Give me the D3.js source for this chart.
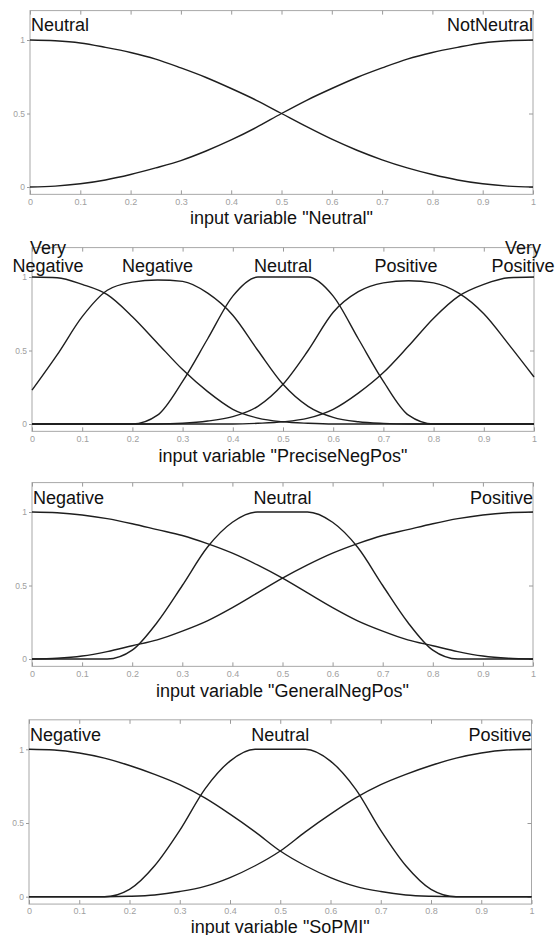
<!DOCTYPE html>
<html><head><meta charset="utf-8">
<script src="https://cdn.jsdelivr.net/npm/d3@7"></script>
<style>body{margin:0;background:#fff}svg{display:block}</style>
</head><body><svg id="c" width="555" height="935"></svg>
<script>
// ---------- data ----------
const xs = [0,0.05,0.1,0.15,0.2,0.25,0.3,0.35,0.4,0.45,0.5,0.55,0.6,0.65,0.7,0.75,0.8,0.85,0.9,0.95,1];
const xTickValues = [0,0.1,0.2,0.3,0.4,0.5,0.6,0.7,0.8,0.9,1];
const xTickLabels = ["0","0.1","0.2","0.3","0.4","0.5","0.6","0.7","0.8","0.9","1"];
const yTickValues = [0,0.5,1];
const yTickLabels = ["0","0.5","1"];

// Panel 1: input variable "Neutral"
const neutralTitle = 'input variable "Neutral"';
const neutralNames = [["Neutral"],["NotNeutral"]];
const neutralPeaks = [0,1];
const neutralNeutral    = [1,0.995,0.98,0.95,0.915,0.87,0.81,0.745,0.67,0.59,0.5,0.41,0.325,0.25,0.185,0.13,0.085,0.048,0.022,0.006,0];
const neutralNotNeutral = [0,0.006,0.022,0.048,0.085,0.13,0.18,0.245,0.32,0.405,0.5,0.59,0.67,0.745,0.81,0.87,0.915,0.95,0.98,0.995,1];

// Panel 2: input variable "PreciseNegPos"
const preciseTitle = 'input variable "PreciseNegPos"';
const preciseNames = [["Very","Negative"],["Negative"],["Neutral"],["Positive"],["Very","Positive"]];
const precisePeaks = [0.032,0.25,0.5,0.745,0.978];
const preciseVeryNeg = [1,0.995,0.95,0.88,0.73,0.55,0.37,0.22,0.10,0.04,0.015,0.005,0,0,0,0,0,0,0,0,0];
const preciseNeg     = [0.23,0.47,0.73,0.91,0.965,0.98,0.97,0.89,0.74,0.50,0.27,0.12,0.045,0.015,0.004,0,0,0,0,0,0];
const preciseNeu     = [0,0,0,0,0,0.06,0.29,0.58,0.87,1,1,1,0.87,0.58,0.29,0.06,0,0,0,0,0];
const precisePos     = [0,0,0,0,0,0,0.005,0.02,0.05,0.12,0.27,0.50,0.76,0.90,0.96,0.975,0.96,0.89,0.75,0.54,0.32];
const preciseVeryPos = [0,0,0,0,0,0,0,0,0,0.005,0.015,0.04,0.10,0.21,0.35,0.53,0.72,0.87,0.95,0.995,1];

// Panel 3: input variable "GeneralNegPos"
const generalTitle = 'input variable "GeneralNegPos"';
const generalNames = [["Negative"],["Neutral"],["Positive"]];
const generalPeaks = [0,0.5,1];
const generalNeg = [1,0.995,0.98,0.955,0.92,0.88,0.84,0.785,0.72,0.64,0.55,0.45,0.35,0.26,0.19,0.13,0.09,0.05,0.02,0.005,0];
const generalNeu = [0,0,0,0,0.06,0.25,0.50,0.76,0.93,1,1,1,0.93,0.76,0.50,0.25,0.06,0,0,0,0];
const generalPos = [0,0.005,0.02,0.05,0.09,0.13,0.19,0.26,0.35,0.45,0.55,0.64,0.72,0.785,0.84,0.88,0.92,0.955,0.98,0.995,1];

// Panel 4: input variable "SoPMI"
const sopmiTitle = 'input variable "SoPMI"';
const sopmiNames = [["Negative"],["Neutral"],["Positive"]];
const sopmiPeaks = [0,0.5,1];
const sopmiNeg = [1,0.995,0.975,0.94,0.89,0.83,0.76,0.67,0.56,0.44,0.31,0.21,0.13,0.07,0.035,0.012,0.003,0,0,0,0];
const sopmiNeu = [0,0,0,0,0.05,0.21,0.45,0.73,0.92,1,1,1,0.92,0.73,0.45,0.21,0.05,0,0,0,0];
const sopmiPos = [0,0,0,0,0.003,0.012,0.035,0.07,0.13,0.21,0.31,0.44,0.56,0.67,0.76,0.83,0.89,0.94,0.975,0.995,1];

// ---------- layout ----------
const panels = [
  {title: neutralTitle, names: neutralNames, peaks: neutralPeaks, series: [neutralNeutral, neutralNotNeutral],
   L: {left:30, right:533, y1:40, y0:187, labelY:30.7, titleY:223.5}},
  {title: preciseTitle, names: preciseNames, peaks: precisePeaks, series: [preciseVeryNeg, preciseNeg, preciseNeu, precisePos, preciseVeryPos],
   L: {left:32, right:534, y1:277, y0:424, labelY:271.5, titleY:461.5}},
  {title: generalTitle, names: generalNames, peaks: generalPeaks, series: [generalNeg, generalNeu, generalPos],
   L: {left:32, right:533, y1:512, y0:659, labelY:503.5, titleY:696.5}},
  {title: sopmiTitle, names: sopmiNames, peaks: sopmiPeaks, series: [sopmiNeg, sopmiNeu, sopmiPos],
   L: {left:29, right:531.5, y1:749.3, y0:896.7, labelY:741, titleY:932.5}}
];

const FONT = "'Liberation Sans', Arial, Helvetica, sans-serif";
const svg = d3.select("#c");
svg.append("rect").attr("width",555).attr("height",935).attr("fill","#fff");

panels.forEach(p => {
  const L = p.L;
  const x = d3.scaleLinear().domain([0,1]).range([L.left, L.right]);
  const y = d3.scaleLinear().domain([0,1]).range([L.y0, L.y1]);
  const top = y(1.2), bottom = y(-0.05);
  const g = svg.append("g");

  // box
  g.append("rect").attr("x", L.left).attr("y", top)
    .attr("width", L.right - L.left).attr("height", bottom - top)
    .attr("fill","none").attr("stroke","#a8a8a8").attr("stroke-width",1);

  const styleAxis = sel => {
    sel.select(".domain").remove();
    sel.selectAll(".tick line").attr("stroke","#9a9a9a");
    sel.selectAll(".tick text").attr("fill","#a0a0a0").style("font-family",FONT);
  };

  // bottom axis with inward ticks
  g.append("g").attr("transform",`translate(0,${bottom})`)
    .call(d3.axisBottom(x).tickValues(xTickValues).tickFormat((d,i)=>xTickLabels[i])
      .tickSizeInner(-4).tickSizeOuter(0).tickPadding(4))
    .call(styleAxis)
    .call(s => s.selectAll(".tick text").style("font-size","9px"));
  // top axis ticks
  g.append("g").attr("transform",`translate(0,${top})`)
    .call(d3.axisTop(x).tickValues(xTickValues).tickFormat("").tickSizeInner(-4).tickSizeOuter(0))
    .call(styleAxis);
  // left axis
  g.append("g").attr("transform",`translate(${L.left},0)`)
    .call(d3.axisLeft(y).tickValues(yTickValues).tickFormat((d,i)=>yTickLabels[i])
      .tickSizeInner(3).tickSizeOuter(0).tickPadding(2))
    .call(styleAxis)
    .call(s => s.selectAll(".tick text").style("font-size","8.5px"));
  // right axis ticks inward
  g.append("g").attr("transform",`translate(${L.right},0)`)
    .call(d3.axisRight(y).tickValues(yTickValues).tickFormat("").tickSizeInner(-4).tickSizeOuter(0))
    .call(styleAxis);

  // curves
  const line = d3.line().x(d => x(d[0])).y(d => y(d[1])).curve(d3.curveMonotoneX);
  p.series.forEach(s => {
    g.append("path").attr("d", line(xs.map((v,i)=>[v, s[i]])))
      .attr("fill","none").attr("stroke","#1e1e1e").attr("stroke-width",1.4);
  });

  // MF labels
  p.names.forEach((lines, i) => {
    const pk = p.peaks[i];
    let anchor = "middle", tx = x(pk);
    if (pk === 0) { anchor = "start"; tx = L.left + 1; }
    else if (pk === 1) { anchor = "end"; tx = L.right; }
    const t = g.append("text").attr("text-anchor", anchor)
      .style("font-family",FONT).style("font-size","18px").attr("fill","#111");
    lines.forEach((ln, k) => {
      t.append("tspan").attr("x", tx)
        .attr("y", L.labelY - (lines.length - 1 - k) * 17.3).text(ln);
    });
  });

  // axis title
  g.append("text").attr("x", (L.left + L.right)/2).attr("y", L.titleY)
    .attr("text-anchor","middle").style("font-family",FONT).style("font-size","18px")
    .attr("fill","#111").text(p.title);
});
</script></body></html>
